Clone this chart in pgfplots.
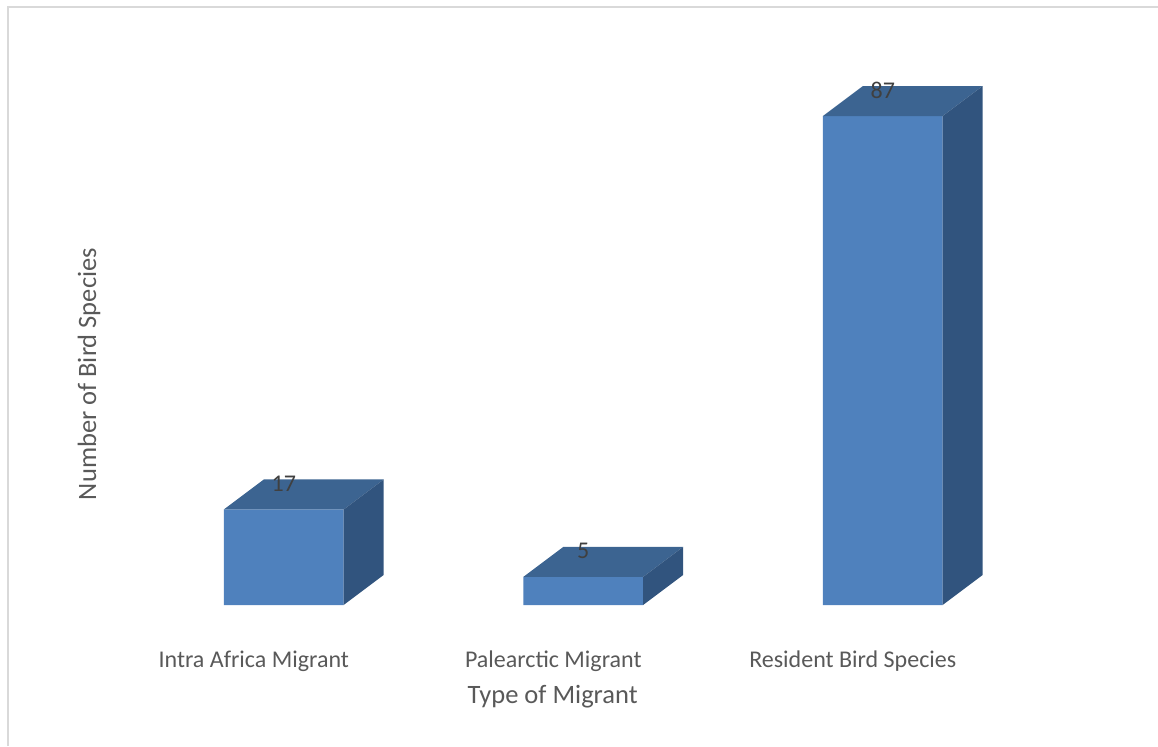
\documentclass[border=0pt]{standalone}
\usepackage{fontspec}
\setmainfont{Carlito}
\usepackage{pgfplots}
\pgfplotsset{compat=1.18}
\definecolor{frontc}{HTML}{4F81BD}
\definecolor{topc}{HTML}{3C6491}
\definecolor{sidec}{HTML}{31547E}
\definecolor{txt}{HTML}{595959}
\definecolor{lbl}{HTML}{404040}
\definecolor{frame}{HTML}{D9D9D9}
\begin{document}
\begin{tikzpicture}
\useasboundingbox (0pt,0pt) rectangle (579pt,373pt);
\draw[frame, line width=0.9pt] (4pt,0pt) -- (4pt,369.5pt) -- (579pt,369.5pt);
\begin{axis}[
  at={(67pt,70.5pt)}, anchor=south west,
  scale only axis, width=449.25pt, height=281pt,
  xmin=-0.5, xmax=2.5, ymin=0, ymax=100,
  clip=false,
  /pgf/number format/assume math mode=true,
  axis line style={draw=none},
  ytick=\empty,
  xtick={-0.1,0.9,1.9},
  xticklabels={Intra Africa Migrant, Palearctic Migrant, Resident Bird Species},
  xtick style={draw=none},
  major tick length=0pt,
  xticklabel style={anchor=base, yshift=-31.25pt, font=\fontsize{12}{14}\selectfont, text=txt},
  xlabel={Type of Migrant},
  xlabel style={at={(rel axis cs:0.466,0)}, anchor=base, yshift=-49pt, font=\fontsize{13.25}{15}\selectfont, text=txt},
  ylabel={Number of Bird Species},
  ylabel style={at={(rel axis cs:0,0.411)}, anchor=center, yshift=22.5pt, font=\fontsize{13.25}{15}\selectfont, text=txt},
]
% front faces
\addplot[ybar, bar width=0.4, fill=frontc, draw=none] coordinates {(0,17) (1,5) (2,87)};
% top faces
\addplot[fill=topc, draw=none] coordinates {(-0.2,17) (0.2,17) (0.3336,22.34) (-0.0664,22.34)} -- cycle;
\addplot[fill=topc, draw=none] coordinates {(0.8,5) (1.2,5) (1.3336,10.34) (0.9336,10.34)} -- cycle;
\addplot[fill=topc, draw=none] coordinates {(1.8,87) (2.2,87) (2.3336,92.34) (1.9336,92.34)} -- cycle;
% side faces
\addplot[fill=sidec, draw=none] coordinates {(0.2,0) (0.3336,5.34) (0.3336,22.34) (0.2,17)} -- cycle;
\addplot[fill=sidec, draw=none] coordinates {(1.2,0) (1.3336,5.34) (1.3336,10.34) (1.2,5)} -- cycle;
\addplot[fill=sidec, draw=none] coordinates {(2.2,0) (2.3336,5.34) (2.3336,92.34) (2.2,87)} -- cycle;
% data labels
\addplot[draw=none, mark=none, nodes near coords,
  every node near coord/.append style={anchor=base, yshift=9pt, inner sep=0pt, font=\fontsize{12}{14}\selectfont, text=lbl}]
  coordinates {(0,17) (1,5) (2,87)};
\end{axis}
\end{tikzpicture}
\end{document}
